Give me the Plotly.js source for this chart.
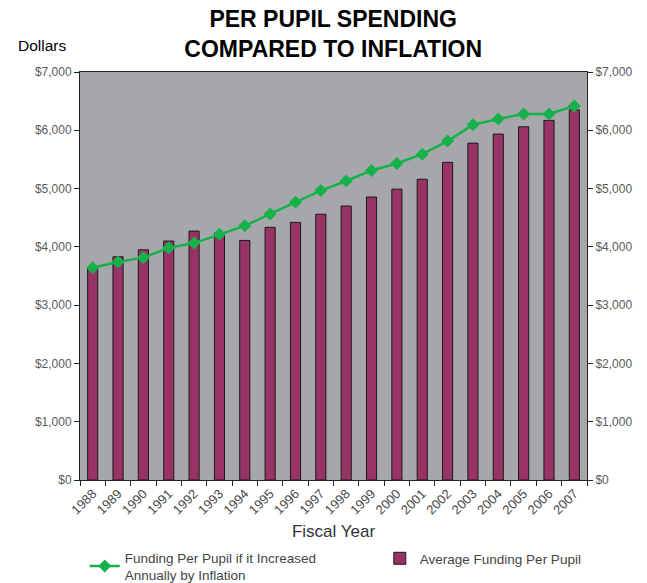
<!DOCTYPE html>
<html>
<head>
<meta charset="utf-8">
<script src="https://cdn.plot.ly/plotly-3.0.1.min.js"></script>
<style>html,body{margin:0;padding:0;background:#fff;}#chart{width:647px;height:583px;}</style>
</head>
<body>
<div id="chart"></div>
<script>
const years = ["1988","1989","1990","1991","1992","1993","1994","1995","1996","1997","1998","1999","2000","2001","2002","2003","2004","2005","2006","2007"];
const avgFunding = [3650, 3830, 3950, 4100, 4270, 4240, 4110, 4335, 4420, 4560, 4700, 4855, 4990, 5160, 5450, 5780, 5935, 6060, 6170, 6350];
const inflationFunding = [3640, 3740, 3815, 3985, 4065, 4215, 4360, 4565, 4765, 4965, 5130, 5310, 5430, 5590, 5815, 6095, 6195, 6280, 6280, 6415];
const yTickVals = [0, 1000, 2000, 3000, 4000, 5000, 6000, 7000];
const yTickText = ["$0", "$1,000", "$2,000", "$3,000", "$4,000", "$5,000", "$6,000", "$7,000"];

const FONT = "Liberation Sans, Arial, sans-serif";

const traces = [
  {
    type: "scatter", mode: "lines+markers",
    x: years, y: inflationFunding, yaxis: "y2", legend: "legend",
    name: "Funding Per Pupil if it Increased<br>Annually by Inflation",
    line: {color: "#17b14b", width: 2.5},
    marker: {symbol: "diamond", size: 10, color: "#17b14b"},
    cliponaxis: false
  },
  {
    type: "bar",
    x: years, y: avgFunding, yaxis: "y", legend: "legend2",
    name: "Average Funding Per Pupil",
    marker: {color: "#993366", line: {color: "#1a1a1a", width: 1}}
  }
];

const yAxisCommon = {
  range: [0, 7000], tickvals: yTickVals, ticktext: yTickText,
  showgrid: false, zeroline: false, showline: true, linecolor: "#222", linewidth: 1,
  ticks: "outside", ticklen: 5, tickcolor: "#222", automargin: false,
  tickfont: {family: FONT, size: 12, color: "#5a5a5a"}, fixedrange: true
};

const legendCommon = {
  orientation: "h", xref: "container", yref: "container",
  xanchor: "left", yanchor: "top",
  font: {family: FONT, size: 13.5, color: "#444"},
  bgcolor: "rgba(0,0,0,0)"
};

const layout = {
  width: 647, height: 583,
  margin: {l: 80, r: 60, t: 72, b: 102.5},
  paper_bgcolor: "#ffffff", plot_bgcolor: "#a6a7aa",
  bargap: 0.6,
  showlegend: true,
  title: {
    text: "<b>PER PUPIL SPENDING<br>COMPARED TO INFLATION</b>",
    font: {family: FONT, size: 23, color: "#000"},
    x: 0.515, xanchor: "center", y: 0.953, yanchor: "top", yref: "container"
  },
  xaxis: {
    type: "category", tickson: "boundaries", automargin: false,
    range: [-0.5, years.length - 0.5], autorange: false,
    showline: true, mirror: true, linecolor: "#222", linewidth: 1,
    ticks: "outside", ticklen: 5, tickcolor: "#222",
    tickangle: -45, tickfont: {family: FONT, size: 13, color: "#4a4a4a"},
    title: {text: "Fiscal Year", font: {family: FONT, size: 17, color: "#333"}, standoff: 8},
    showgrid: false, fixedrange: true
  },
  yaxis: Object.assign({}, yAxisCommon, {side: "left"}),
  yaxis2: Object.assign({}, yAxisCommon, {side: "right", overlaying: "y", anchor: "x"}),
  legend: Object.assign({}, legendCommon, {x: 0.131, y: 0.0703}),
  legend2: Object.assign({}, legendCommon, {x: 0.587, y: 0.0686}),
  annotations: [
    {text: "Dollars", xref: "paper", yref: "paper", x: -0.126, y: 1.064, xanchor: "left", yanchor: "middle",
     showarrow: false, font: {family: FONT, size: 15.5, color: "#000"}}
  ]
};

Plotly.newPlot("chart", traces, layout, {displayModeBar: false, staticPlot: true});
</script>
</body>
</html>
